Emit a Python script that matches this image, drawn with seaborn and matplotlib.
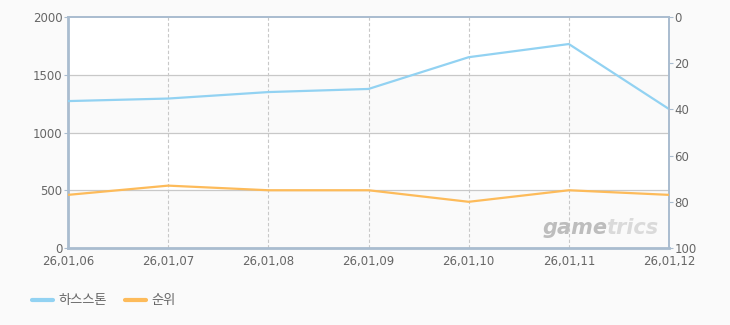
import matplotlib
matplotlib.use("Agg")
import matplotlib.pyplot as plt
import seaborn as sns
import pandas as pd
from matplotlib.lines import Line2D

dates = ["26,01,06", "26,01,07", "26,01,08", "26,01,09", "26,01,10", "26,01,11", "26,01,12"]
users = [1272, 1294, 1350, 1377, 1652, 1766, 1203]
rank = [77, 73, 75, 75, 80, 75, 77]
left_ticks = [0, 500, 1000, 1500, 2000]
right_ticks = [0, 20, 40, 60, 80, 100]
series_names = ["하스스톤", "순위"]

sns.set_theme(style="white")
plt.rcParams['font.family'] = ['Noto Sans CJK KR', 'DejaVu Sans']

blue = "#92d2f2"
orange = "#fdbb5a"
tick_color = "#666666"
spine_color = "#a9bccf"

df = pd.DataFrame({"x": range(len(dates)), "users": users, "rank": rank})

fig = plt.figure(figsize=(7.3, 3.25), dpi=100)
fig.patch.set_facecolor("#fafafa")
ax = fig.add_axes([68/730, 1-248/325, (669-68)/730, (248-17)/325])
ax.set_facecolor("white")
for lo, hi in [(0, 500), (1000, 1500)]:
    ax.axhspan(lo, hi, color="#fafafa", zorder=0, lw=0)
for v in [500, 1000, 1500]:
    ax.axhline(v, color="#c8c8c8", lw=0.9, zorder=1)
for i in range(1, len(dates) - 1):
    ax.axvline(i, color="#c8c8c8", lw=0.8, ls=(0, (3, 2)), zorder=1)

sns.lineplot(data=df, x="x", y="users", ax=ax, color=blue, lw=1.6, zorder=3)
ax.set_xlim(0, len(dates) - 1)
ax.set_ylim(0, 2000)
ax.set_yticks(left_ticks)
ax.set_xticks(range(len(dates)))
ax.set_xticklabels(dates)
ax.set_xlabel("")
ax.set_ylabel("")

ax2 = ax.twinx()
sns.lineplot(data=df, x="x", y="rank", ax=ax2, color=orange, lw=1.6, zorder=3)
ax2.set_ylim(100, 0)
ax2.set_yticks(right_ticks)
ax2.set_ylabel("")
ax2.set_xlim(0, len(dates) - 1)

for a in (ax, ax2):
    a.tick_params(axis="both", length=3, color=spine_color, labelsize=8.5,
                  labelcolor=tick_color, pad=1, width=0.8)
    for s in a.spines.values():
        s.set_color(spine_color)
        s.set_linewidth(1.2)
ax.tick_params(axis="x", length=0, pad=5)
ax.spines["left"].set_linewidth(2)
ax.spines["bottom"].set_linewidth(2)
ax2.spines["left"].set_visible(False)
ax2.spines["bottom"].set_visible(False)
for lbl in ax.get_xticklabels():
    lbl.set_fontfamily(['DejaVu Sans'])
for lbl in ax.get_yticklabels() + ax2.get_yticklabels():
    lbl.set_fontfamily(['DejaVu Sans'])

wm_kw = dict(transform=ax.transAxes, va="bottom", fontsize=15, fontstyle="italic",
             fontweight="bold", family=["DejaVu Sans"], zorder=2)
ax2.text(0.897, 0.045, "game", ha="right", color="#bdbdbd", **wm_kw)
ax2.text(0.8955, 0.045, "trics", ha="left", color="#dadada", **wm_kw)

handles = [Line2D([0], [0], color=blue, lw=3), Line2D([0], [0], color=orange, lw=3)]
fig.legend(handles, series_names, loc="lower left", bbox_to_anchor=(20/730, 6/325),
           ncol=2, frameon=False, fontsize=9.5, handlelength=1.6, handletextpad=0.4,
           columnspacing=1.4, labelcolor=tick_color)

fig.savefig("out.png", dpi=100, facecolor=fig.get_facecolor())
